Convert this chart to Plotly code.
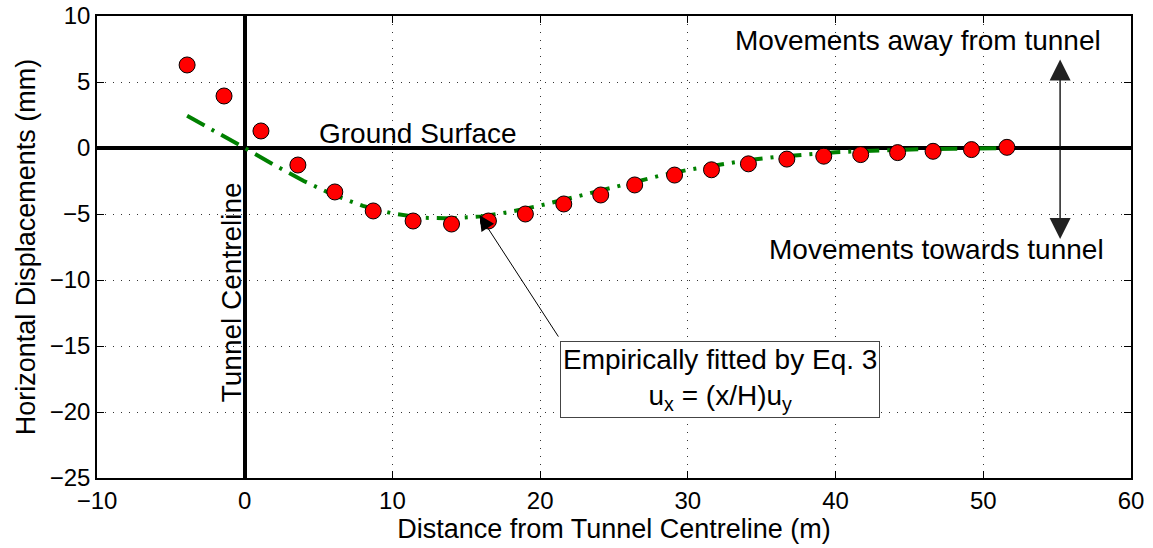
import plotly.graph_objects as go

# Measured horizontal ground-surface displacements
dist_m = [-3.9, -1.4, 1.1, 3.6, 6.1, 8.7, 11.4, 14.0, 16.5, 19.0, 21.6, 24.1,
          26.4, 29.1, 31.6, 34.1, 36.7, 39.2, 41.7, 44.2, 46.6, 49.2, 51.6]
disp_mm = [6.29, 3.94, 1.29, -1.29, -3.33, -4.77, -5.53, -5.76, -5.53, -5.0,
           -4.24, -3.56, -2.8, -2.05, -1.65, -1.2, -0.84, -0.62, -0.5, -0.35,
           -0.25, -0.12, 0.05]

# Empirical fit u_x = (x/H) u_y, sampled along its length
fit_x = [-3.9, -2, 0, 2, 4, 6, 8, 10, 12, 14, 16, 18, 20, 22, 24, 26, 28, 30,
         32, 34, 36, 38, 40, 42, 44, 46, 48, 50, 51]
fit_y = [2.44, 1.29, 0.0, -1.29, -2.50, -3.55, -4.38, -4.96, -5.28, -5.34,
         -5.18, -4.83, -4.36, -3.81, -3.23, -2.66, -2.13, -1.66, -1.26, -0.93,
         -0.67, -0.47, -0.32, -0.22, -0.14, -0.09, -0.06, -0.03, -0.02]

x_ticks = [-10, 0, 10, 20, 30, 40, 50, 60]
y_ticks = [-25, -20, -15, -10, -5, 0, 5, 10]

FONT = "Liberation Sans, Arial, Helvetica, sans-serif"

fig = go.Figure()
fig.add_trace(go.Scatter(
    x=fit_x, y=fit_y, mode="lines",
    line=dict(color="#008000", width=4, dash="20px,8px,3px,8px"),
    hoverinfo="skip", showlegend=False))
fig.add_trace(go.Scatter(
    x=dist_m, y=disp_mm, mode="markers",
    marker=dict(color="#ff0000", size=16, line=dict(color="black", width=1)),
    showlegend=False))

axis_common = dict(
    showline=True, linecolor="black", linewidth=1.5, mirror="ticks",
    ticks="inside", ticklen=7, tickcolor="black", tickwidth=1,
    showgrid=True, gridcolor="#333", gridwidth=1, griddash="1px,7px",
    zeroline=True, zerolinecolor="black", zerolinewidth=3.5,
    tickfont=dict(family=FONT, size=24, color="black"),
    automargin=False,
)

fig.update_xaxes(range=[-10, 60], tickvals=x_ticks, **axis_common,
                 title=dict(text="Distance from Tunnel Centreline (m)",
                            font=dict(family=FONT, size=27, color="black"),
                            standoff=2))
fig.update_yaxes(range=[-25, 10], tickvals=y_ticks, **axis_common,
                 title=dict(text="Horizontal Displacements (mm)",
                            font=dict(family=FONT, size=27, color="black"),
                            standoff=6))

txt = dict(family=FONT, size=28, color="black")
ann = [
    dict(x=11.7, y=1.1, text="Ground Surface", showarrow=False, font=txt),
    dict(x=-0.9, y=-10.9, text="Tunnel Centreline", showarrow=False,
         textangle=-90, font=txt),
    dict(x=45.6, y=8.15, text="Movements away from tunnel", showarrow=False,
         font=txt),
    dict(x=46.8, y=-7.7, text="Movements towards tunnel", showarrow=False,
         font=txt),
    # double-headed movement arrow
    dict(x=55.2, y=6.7, ax=55.2, ay=0, axref="x", ayref="y", text="",
         showarrow=True, arrowhead=2, arrowsize=2.8, arrowwidth=1.5,
         arrowcolor="#222"),
    dict(x=55.2, y=-6.9, ax=55.2, ay=0, axref="x", ayref="y", text="",
         showarrow=True, arrowhead=2, arrowsize=2.8, arrowwidth=1.5,
         arrowcolor="#222"),
    # pointer from the label box to the fitted curve
    dict(x=15.9, y=-5.1, ax=21.3, ay=-14.4, axref="x", ayref="y", text="",
         showarrow=True, arrowhead=2, arrowsize=3, arrowwidth=1,
         arrowcolor="black"),
    dict(x=32.2, y=-17.5,
         text="Empirically fitted by Eq. 3<br>u<sub>x</sub> = (x/H)u<sub>y</sub>",
         showarrow=False, font=txt, bgcolor="white", bordercolor="#444",
         borderwidth=1, borderpad=2),
]

fig.update_layout(
    width=1153, height=548,
    margin=dict(l=97, r=22, t=16, b=70),
    paper_bgcolor="white", plot_bgcolor="white",
    annotations=ann,
    font=dict(family=FONT, color="black"),
)

fig.write_html("out.html")
